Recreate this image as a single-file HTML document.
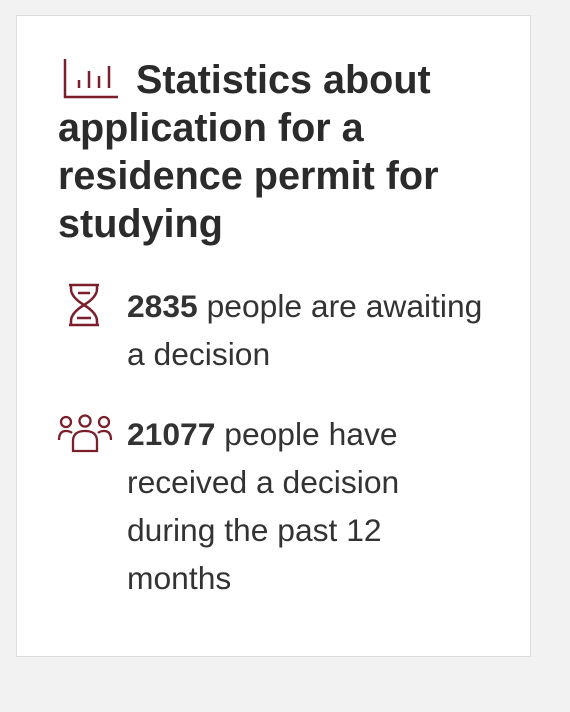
<!DOCTYPE html>
<html><head><meta charset="utf-8"><style>
html,body{margin:0;padding:0;background:#f2f2f2;width:570px;height:712px;overflow:hidden;font-family:"Liberation Sans",Arial,sans-serif;color:#333}
.card{position:absolute;left:16px;top:15px;width:515px;height:642px;background:#fff;border:1px solid #ddd;box-sizing:border-box}
.title{position:absolute;left:41px;top:40px;width:445px;margin:0;font-size:39.6px;font-weight:bold;line-height:48px;text-indent:78px;color:#2b2b2b}
.item{position:absolute;left:110px;width:364px;font-size:31.8px;line-height:48px;color:#333}
svg{position:absolute}
</style></head><body>
<div class="card">
<svg style="left:46px;top:42px" width="56" height="42" viewBox="0 0 56 42">
<g stroke="#7a1f2b" stroke-width="2.5" fill="none"><path d="M2 1 V39 H55"/><path d="M16 22V30M26 13V30M36 18V30M46 8V30"/></g></svg>
<h1 class="title">Statistics about application for a residence permit for studying</h1>
<svg style="left:50px;top:267px" width="34" height="44" viewBox="0 0 34 44">
<g stroke="#7a1f2b" stroke-width="2.5" fill="none" stroke-linejoin="round"><path d="M2 2H32M2 42H32M4 2 L4 6 Q4 14 17 22 Q30 14 30 6 V2 M4 42 V38 Q4 30 17 22 Q30 30 30 38 V42"/><path d="M11 10H23M10 35H24"/></g></svg>
<div class="item" style="top:266px"><b>2835</b> people are awaiting a decision</div>
<svg style="left:40px;top:398px" width="56" height="40" viewBox="0 0 56 40">
<g stroke="#7a1f2b" stroke-width="2.3" fill="none"><circle cx="9" cy="8" r="5"/><circle cx="28" cy="7" r="5.5"/><circle cx="47" cy="8" r="5"/><path d="M2 26 Q2 17 9 17 Q13 17 15 19"/><path d="M54 26 Q54 17 47 17 Q43 17 41 19"/><path d="M16 37 V27 Q16 17 28 17 Q40 17 40 27 V37 Z"/></g></svg>
<div class="item" style="top:394px"><b>21077</b> people have received a decision during the past 12 months</div>
</div>
</body></html>
